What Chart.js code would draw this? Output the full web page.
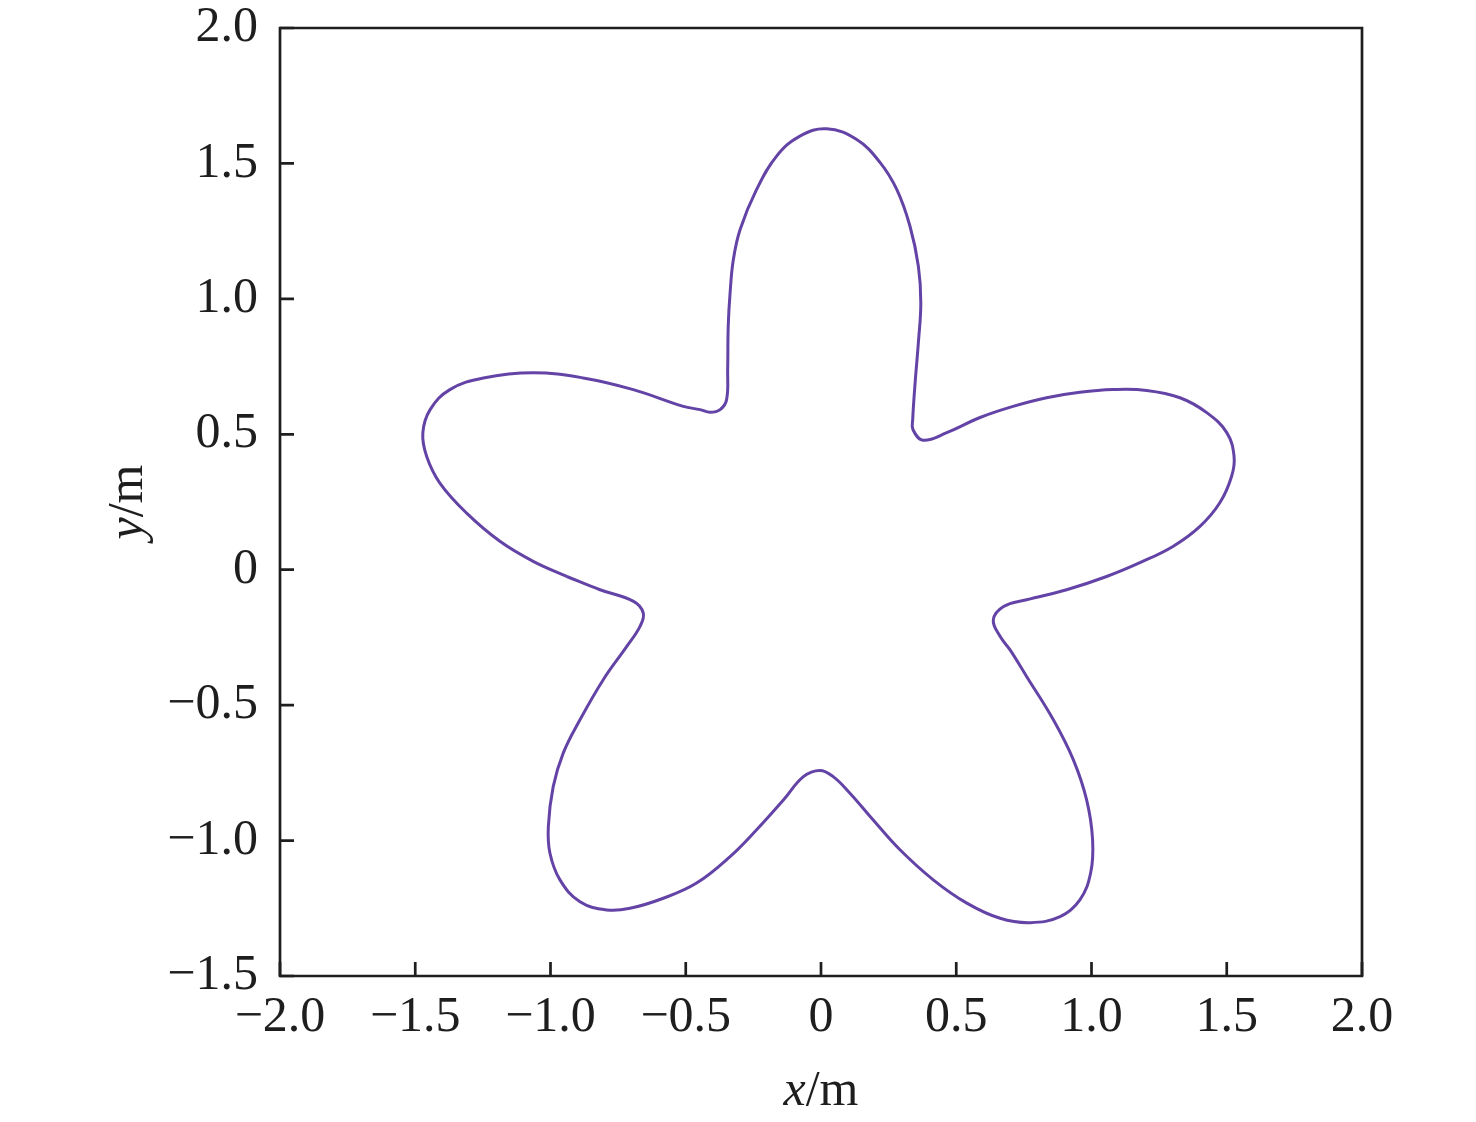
<!DOCTYPE html>
<html>
<head>
<meta charset="utf-8">
<script src="https://cdn.jsdelivr.net/npm/chart.js@4.4.1/dist/chart.umd.min.js"></script>
<style>
  html, body { margin: 0; padding: 0; background: #ffffff; }
  #wrap { width: 1476px; height: 1122px; position: relative; }
</style>
</head>
<body>
<div id="wrap"><canvas id="c" width="1476" height="1122"></canvas></div>
<script>
// ---- Data (closed curve, x/m and y/m) ----
const curveX = [
  -0.940, -0.817, -0.693, -0.657,
  -0.669, -0.718, -0.805, -0.891, -0.953, -0.990, -1.008, -1.002, -0.965, -0.891,
  -0.792, -0.706, -0.583, -0.460, -0.336, -0.238, -0.139, -0.065, -0.004, 0.045,
  0.107, 0.193, 0.292, 0.415, 0.539, 0.662, 0.773, 0.884, 0.957, 0.997,
  1.004, 0.982, 0.933, 0.859, 0.760, 0.699, 0.662, 0.637, 0.675, 0.760,
  0.908, 1.056, 1.179, 1.301, 1.401, 1.475, 1.518, 1.527, 1.500, 1.426,
  1.327, 1.204, 1.079, 0.957, 0.834, 0.710, 0.588, 0.465, 0.377, 0.340,
  0.339, 0.348, 0.360, 0.369, 0.360, 0.329, 0.280, 0.218, 0.132,
  0.021, -0.078, -0.164, -0.238, -0.299, -0.324, -0.336, -0.343, -0.345, -0.349,
  -0.373, -0.410, -0.447, -0.509, -0.694, -0.879, -1.064, -1.248, -1.372, -1.445,
  -1.472, -1.458, -1.409, -1.310, -1.187, -1.064, -0.940
];
const curveY = [
  -0.025, -0.074, -0.117, -0.160,
  -0.209, -0.283, -0.406, -0.554, -0.677, -0.801, -0.948, -1.047, -1.145, -1.226,
  -1.256, -1.250, -1.213, -1.157, -1.059, -0.960, -0.850, -0.764, -0.741, -0.764,
  -0.825, -0.924, -1.034, -1.145, -1.231, -1.287, -1.303, -1.281, -1.219, -1.119,
  -0.997, -0.850, -0.702, -0.554, -0.394, -0.296, -0.246, -0.185, -0.136, -0.111,
  -0.074, -0.025, 0.026, 0.086, 0.160, 0.248, 0.345, 0.419, 0.506, 0.580,
  0.635, 0.662, 0.665, 0.655, 0.635, 0.603, 0.562, 0.506, 0.478, 0.517,
  0.554, 0.691, 0.839, 0.986, 1.120, 1.268, 1.404, 1.504, 1.588,
  1.628, 1.601, 1.527, 1.404, 1.256, 1.145, 1.023, 0.899, 0.739, 0.628,
  0.591, 0.581, 0.591, 0.603, 0.665, 0.708, 0.727, 0.708, 0.665, 0.591,
  0.505, 0.419, 0.320, 0.209, 0.105, 0.031, -0.025
];
const xRange = [-2.0, 2.0];
const yRange = [-1.5, 2.0];
const tickStep = 0.5;
const xTitleItalic = 'x';
const yTitleItalic = 'y';
const titleUnit = '/m';

// ---- Build points ----
const points = curveX.map((x, i) => ({ x: x, y: curveY[i] }));

const FONT = '"Liberation Serif", "Times New Roman", serif';
const INK = '#1e1e1e';

function fmt(v) {
  if (Math.abs(v) < 1e-9) return '0';
  return v.toFixed(1).replace('-', '\u2212');
}

const framePlugin = {
  id: 'frameAndTitles',
  afterDatasetsDraw(chart) {
    const ctx = chart.ctx;
    const a = chart.chartArea;
    const xs = chart.scales.x, ys = chart.scales.y;
    ctx.save();
    ctx.strokeStyle = INK;
    ctx.lineWidth = 2.7;
    ctx.lineCap = 'butt';
    // inward tick marks, bottom and left
    const tl = 14;
    ctx.beginPath();
    xs.ticks.forEach(t => {
      const px = xs.getPixelForValue(t.value);
      ctx.moveTo(px, a.bottom);
      ctx.lineTo(px, a.bottom - tl);
    });
    ys.ticks.forEach(t => {
      const py = ys.getPixelForValue(t.value);
      ctx.moveTo(a.left, py);
      ctx.lineTo(a.left + tl, py);
    });
    ctx.stroke();
    // frame
    ctx.beginPath();
    ctx.rect(a.left, a.top, a.right - a.left, a.bottom - a.top);
    ctx.stroke();

    // axis titles with italic variable name
    ctx.fillStyle = INK;
    ctx.textBaseline = 'alphabetic';
    ctx.textAlign = 'left';
    const it = 'italic 50px ' + FONT;
    const nm = '50px ' + FONT;
    // x title
    ctx.font = it; const w1 = ctx.measureText(xTitleItalic).width;
    ctx.font = nm; const w2 = ctx.measureText(titleUnit).width;
    const cx = (a.left + a.right) / 2;
    let sx = cx - (w1 + w2) / 2;
    ctx.font = it; ctx.fillText(xTitleItalic, sx, 1105);
    ctx.font = nm; ctx.fillText(titleUnit, sx + w1, 1105);
    // y title (rotated)
    ctx.font = it; const w3 = ctx.measureText(yTitleItalic).width;
    ctx.font = nm; const w4 = ctx.measureText(titleUnit).width;
    const cy = (a.top + a.bottom) / 2;
    ctx.translate(142, cy);
    ctx.rotate(-Math.PI / 2);
    const sy = -(w3 + w4) / 2;
    ctx.font = it; ctx.fillText(yTitleItalic, sy, 0);
    ctx.font = nm; ctx.fillText(titleUnit, sy + w3, 0);
    ctx.restore();
  }
};

new Chart(document.getElementById('c'), {
  type: 'scatter',
  data: {
    datasets: [{
      data: points,
      showLine: true,
      borderColor: '#6443a6',
      borderWidth: 3,
      pointRadius: 0,
      pointHoverRadius: 0,
      tension: 0.4,
      fill: false
    }]
  },
  options: {
    responsive: false,
    animation: false,
    devicePixelRatio: 1,
    layout: { padding: { left: 0, right: 114, top: 28, bottom: 0 } },
    plugins: { legend: { display: false }, tooltip: { enabled: false } },
    scales: {
      x: {
        type: 'linear',
        min: xRange[0], max: xRange[1],
        grid: { display: false, drawTicks: false },
        border: { display: false },
        ticks: {
          stepSize: tickStep, autoSkip: false, maxRotation: 0, minRotation: 0,
          padding: 12, color: INK,
          font: { family: FONT, size: 50 },
          callback: v => fmt(v)
        },
        afterFit(s) { s.height = 146; s.paddingLeft = 0; s.paddingRight = 0; }
      },
      y: {
        type: 'linear',
        min: yRange[0], max: yRange[1],
        grid: { display: false, drawTicks: false },
        border: { display: false },
        ticks: {
          stepSize: tickStep, autoSkip: false,
          padding: 22, color: INK,
          font: { family: FONT, size: 50 },
          callback: v => fmt(v)
        },
        afterFit(s) { s.width = 280; s.paddingTop = 0; s.paddingBottom = 0; }
      }
    }
  },
  plugins: [framePlugin]
});
</script>
</body>
</html>
